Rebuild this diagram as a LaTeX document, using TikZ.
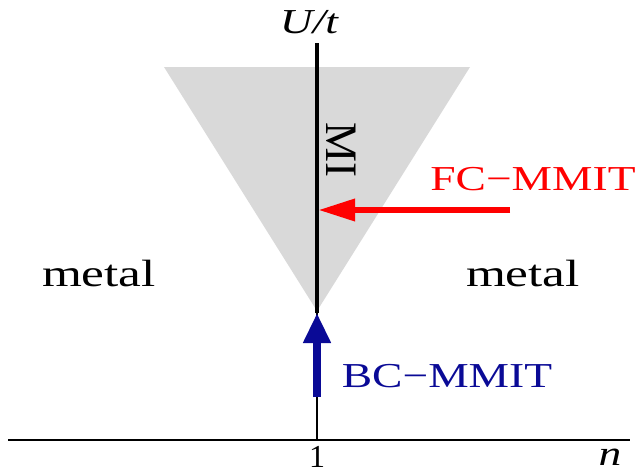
\documentclass[tikz,border=0pt]{standalone}
\usepackage{fontspec}
\usepackage{graphicx}
\setmainfont{Liberation Serif}
\usetikzlibrary{arrows.meta}
\definecolor{regiongray}{RGB}{217,217,217}
\definecolor{bcblue}{RGB}{10,10,150}
\definecolor{fcred}{RGB}{255,0,0}
\newcommand{\wide}[1]{\scalebox{1.3}[1]{#1}}
\tikzset{
  lbl/.style={inner sep=0pt, anchor=base, font=\fontsize{35}{40}\selectfont},
  metallbl/.style={inner sep=0pt, anchor=base, font=\fontsize{38}{42}\selectfont},
  axisline/.style={line width=2pt, black},
  thickline/.style={line width=4.5pt, black},
}
\begin{document}
\begin{tikzpicture}[x=1pt,y=-1pt]
\useasboundingbox (0,0) rectangle (639,474);
% shaded MI region
\fill[regiongray] (164,67) -- (470,67) -- (317,311) -- cycle;
% axes
\coordinate (xl) at (8,440);
\coordinate (xr) at (630,440);
\coordinate (ytop) at (317,43);
\coordinate (yorig) at (317,440);
\coordinate (apex) at (317,313);
\draw[axisline] (xl) -- (xr);
\draw[axisline] (yorig) -- (apex);
\draw[thickline] (apex) -- (ytop);
% arrows
\coordinate (redstart) at (510,210);
\coordinate (redend) at (318,210);
\draw[fcred, line width=6.5pt, -{Triangle[length=37pt,width=21pt]}] (redstart) -- (redend);
\coordinate (bluestart) at (317,397);
\coordinate (blueend) at (317,313);
\draw[bcblue, line width=8pt, -{Triangle[length=30pt,width=26pt]}] (bluestart) -- (blueend);
% labels
\node[lbl] (ut) at (309,33) {\wide{\itshape U/t}};
\node[metallbl] (metalL) at (99,286) {\scalebox{1.35}[1]{metal}};
\node[metallbl] (metalR) at (523,286) {\scalebox{1.35}[1]{metal}};
\node[lbl, text=fcred] (fc) at (533,190) {\wide{FC−MMIT}};
\node[lbl, text=bcblue] (bc) at (447,387) {\wide{BC−MMIT}};
\node[inner sep=0pt, rotate=-90, font=\fontsize{45}{50}\selectfont] (mi) at (341,150) {MI};
\node[lbl, font=\fontsize{32}{36}\selectfont] (one) at (317,467) {1};
\node[lbl] (nlab) at (610,465) {\wide{\itshape n}};
\end{tikzpicture}
\end{document}
